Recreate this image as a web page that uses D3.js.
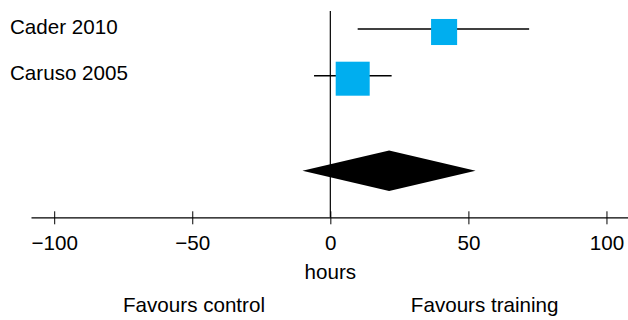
<!DOCTYPE html>
<html><head><meta charset="utf-8">
<script src="https://cdn.jsdelivr.net/npm/d3@7"></script>
<style>body{margin:0;background:#fff}svg{display:block}text{font-family:"Liberation Sans",Arial,Helvetica,sans-serif}</style>
</head><body>
<script>
const studies = ["Cader 2010", "Caruso 2005"];
const means = [41.2, 8.1];
const lower = [9.9, -5.9];
const upper = [72.0, 22.2];
const weights = [37, 63];
const pooled = {mean: 21.3, lo: -10.1, hi: 52.6};
const tickValues = [-100, -50, 0, 50, 100];
const axisLabel = "hours";
const sideLabels = ["Favours control", "Favours training"];

const W = 628, H = 320, FS = 20.6;
const svg = d3.select("body").append("svg").attr("width", W).attr("height", H);

const x = d3.scaleLinear().domain([-108.4, 107.8]).range([31, 628]);
const y = d3.scalePoint().domain(studies).range([29, 75.7]);
const size = d3.scaleSqrt().domain([0, 63]).range([0, 34]);
const axisY = 217.3;

// zero line
svg.append("line").attr("x1", x(0)).attr("x2", x(0)).attr("y1", 11).attr("y2", axisY)
  .attr("stroke", "#000").attr("stroke-width", 1.2);

const rows = studies.map((s, i) => ({s, m: means[i], lo: lower[i], hi: upper[i], w: weights[i]}));

// CI lines
svg.selectAll("line.ci").data(rows).enter().append("line").attr("class", "ci")
  .attr("x1", d => x(d.lo)).attr("x2", d => x(d.hi))
  .attr("y1", d => y(d.s)).attr("y2", d => y(d.s))
  .attr("stroke", "#000").attr("stroke-width", 1.4);

// squares
svg.selectAll("rect.sq").data(rows).enter().append("rect").attr("class", "sq")
  .attr("x", d => x(d.m) - size(d.w) / 2)
  .attr("y", d => y(d.s) + 3 - size(d.w) / 2)
  .attr("width", d => size(d.w)).attr("height", d => size(d.w))
  .attr("fill", "#00AEEF");

// labels
svg.selectAll("text.lab").data(rows).enter().append("text").attr("class", "lab")
  .attr("x", 10).attr("y", d => y(d.s) + 4.5)
  .attr("font-size", FS).attr("fill", "#000").text(d => d.s);

// diamond
const dy = 170.7, dh = 20.3;
svg.append("path")
  .attr("d", `M${x(pooled.lo)},${dy} L${x(pooled.mean)},${dy - dh} L${x(pooled.hi)},${dy} L${x(pooled.mean)},${dy + dh} Z`)
  .attr("fill", "#000");

// axis
const axis = d3.axisBottom(x).tickValues(tickValues).tickSize(7).tickSizeOuter(0).tickPadding(12);
const g = svg.append("g").attr("transform", `translate(0,${axisY})`).call(axis);
g.select(".domain").attr("stroke", "#000").attr("stroke-width", 1.2);
g.selectAll(".tick line").attr("y1", -6).attr("y2", 7).attr("stroke", "#000").attr("stroke-width", 1);
g.selectAll(".tick text").attr("font-size", FS).attr("fill", "#000")
  .attr("font-family", '"Liberation Sans",Arial,sans-serif').attr("dy", null).attr("y", 33);

svg.append("text").attr("x", x(0)).attr("y", 279).attr("text-anchor", "middle")
  .attr("font-size", FS).attr("fill", "#000").text(axisLabel);
svg.append("text").attr("x", 194).attr("y", 311.5).attr("text-anchor", "middle")
  .attr("font-size", FS).attr("fill", "#000").text(sideLabels[0]);
svg.append("text").attr("x", 484.7).attr("y", 311.5).attr("text-anchor", "middle")
  .attr("font-size", FS).attr("fill", "#000").text(sideLabels[1]);
</script>
</body></html>
